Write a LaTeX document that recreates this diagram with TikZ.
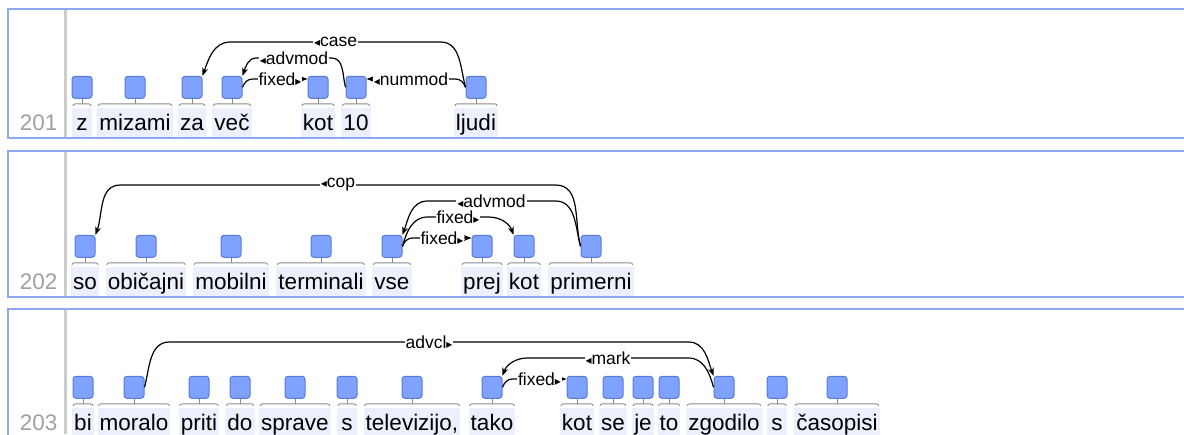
\documentclass[tikz,border=0pt]{standalone}
\usepackage{fontspec}
\setmainfont{Liberation Sans}
\newfontfamily\markfont{DejaVu Sans}
\usepackage{xcolor}
\usepackage{tikz}
\usetikzlibrary{arrows.meta, positioning, calc}

\definecolor{spanfill}{HTML}{7FA2FF}
\definecolor{spanline}{HTML}{5A7AD8}
\definecolor{rowframe}{HTML}{8DA8F2}
\definecolor{wordbg}{HTML}{EBF0FC}
\definecolor{rownum}{HTML}{A0A0A0}
\definecolor{sepgray}{HTML}{CCCCCC}
\definecolor{brkgray}{HTML}{8A8A8A}

% direction marks in arc labels
\newcommand{\lmk}{{\markfont\fontsize{12}{12}\selectfont ◂}}
\newcommand{\rmk}{{\markfont\fontsize{12}{12}\selectfont ▸}}

% one token: word, span box above it, brace between
\newcommand{\tok}[4]{%
	\node[word] (#1) at (#2,#3) {#4};
	\node[spanbox, above=9pt of #1] (#1-t) {};
	\draw[brk] ($(#1.north west)+(1,-2)$) to[out=90,in=180] ($(#1.north west)+(4,-4)$) -- ($(#1.north east)+(-4,-4)$) to[out=0,in=90] ($(#1.north east)+(-1,-2)$);
	\draw[brk] (#1-t.south) -- ($(#1.north)+(0,-4)$);
}

\begin{document}
\begin{tikzpicture}[
		x=1pt, y=-1pt,
		font=\fontsize{22.5}{26}\selectfont,
		word/.style={anchor=base, fill=wordbg, inner xsep=2pt, inner ysep=0pt, text height=22pt, text depth=7pt, minimum width=20pt},
		spanbox/.style={draw=spanline, fill=spanfill, rounded corners=3pt, minimum width=20pt, minimum height=22pt, inner sep=0pt, line width=1pt},
		brk/.style={draw=brkgray, line width=0.9pt},
		arc/.style={-{Stealth[length=8pt,width=6pt]}, line width=1.2pt},
		lab/.style={fill=white, inner xsep=1pt, inner ysep=0.5pt, font=\fontsize{17.5}{18}\selectfont},
		frame/.style={draw=rowframe, line width=2pt},
		sep/.style={draw=sepgray, line width=3pt},
		rownum/.style={anchor=base east, text=rownum}
		]
		
		\useasboundingbox (0,0) rectangle (1184,434);
		\clip (0,0) rectangle (1184,434);
		
		% Row frames
		\draw[frame] (8,9) rectangle (1200,138);
		\draw[frame] (8,151) rectangle (1200,297);
		\draw[frame] (8,309) rectangle (1200,470);
		\draw[sep] (65,10) -- (65,137);
		\draw[sep] (65,152) -- (65,296);
		\draw[sep] (65,310) -- (65,434);
		
		% Row numbers
		\node[rownum] (n201) at (61,130) {201};
		\node[rownum] (n202) at (61,289) {202};
		\node[rownum] (n203) at (61,430) {203};
		
		% Arc levels
		\coordinate (L1a) at (0,42);
		\coordinate (L1b) at (0,58);
		\coordinate (L1c) at (0,79);
		\coordinate (L2a) at (0,185);
		\coordinate (L2b) at (0,201);
		\coordinate (L2c) at (0,217);
		\coordinate (L2d) at (0,238);
		\coordinate (L3a) at (0,342);
		\coordinate (L3b) at (0,358);
		\coordinate (L3c) at (0,379);
		
		% Sentence 201
		\tok{z}{82}{130}{z}
		\tok{mizami}{135}{130}{mizami}
		\tok{za}{192}{130}{za}
		\tok{vec}{232}{130}{več}
		\tok{kot1}{318}{130}{kot}
		\tok{ten}{356}{130}{10}
		\tok{ljudi}{476}{130}{ljudi}
		
		% Sentence 202
		\tok{so}{85}{289}{so}
		\tok{obicajni}{146}{289}{običajni}
		\tok{mobilni}{231}{289}{mobilni}
		\tok{terminali}{321}{289}{terminali}
		\tok{vse}{392}{289}{vse}
		\tok{prej}{482}{289}{prej}
		\tok{kot2}{524}{289}{kot}
		\tok{primerni}{591}{289}{primerni}
		
		% Sentence 203
		\tok{bi}{83}{430}{bi}
		\tok{moralo}{134}{430}{moralo}
		\tok{priti}{199}{430}{priti}
		\tok{do}{240}{430}{do}
		\tok{sprave}{295}{430}{sprave}
		\tok{s1}{347}{430}{s}
		\tok{televizijo}{412}{430}{televizijo,}
		\tok{tako}{492}{430}{tako}
		\tok{kot3}{577}{430}{kot}
		\tok{se}{613}{430}{se}
		\tok{je}{643}{430}{je}
		\tok{toW}{669}{430}{to}
		\tok{zgodilo}{724}{430}{zgodilo}
		\tok{s2}{777}{430}{s}
		\tok{casopisi}{837}{430}{časopisi}
		
		% Arcs 201
		\draw[arc] (ljudi-t.west) to[out=105,in=0] ($(ljudi-t.west |- L1a)+(-25,0)$) -- node[lab]{\lmk case} ($(za-t.north east |- L1a)+(28,0)$) to[out=180,in=70] (za-t.north east);
		\draw[arc] (ten-t.west) to[out=105,in=0] ($(ten-t.west |- L1b)+(-14,0)$) -- node[lab]{\lmk advmod} ($(vec-t.north east |- L1b)+(14,0)$) to[out=180,in=70] (vec-t.north east);
		\draw[arc] (vec-t.east) to[out=70,in=180] ($(vec-t.east |- L1c)+(10,0)$) -- node[lab]{fixed\rmk} (kot1-t.west |- L1c);
		\draw[arc] (ljudi-t.west) to[out=110,in=0] ($(ljudi-t.west |- L1c)+(-10,0)$) -- node[lab]{\lmk nummod} (ten-t.east |- L1c);
		
		% Arcs 202
		\draw[arc] (primerni-t.west) to[out=105,in=0] ($(primerni-t.west |- L2a)+(-25,0)$) -- node[lab]{\lmk cop} ($(so-t.north east |- L2a)+(25,0)$) to[out=180,in=70] (so-t.north east);
		\draw[arc] (primerni-t.west) to[out=105,in=0] ($(primerni-t.west |- L2b)+(-25,0)$) -- node[lab]{\lmk advmod} ($(vse-t.north east |- L2b)+(25,0)$) to[out=180,in=70] (vse-t.north east);
		\draw[arc] (vse-t.east) to[out=75,in=180] ($(vse-t.east |- L2c)+(25,0)$) -- node[lab]{fixed\rmk} ($(kot2-t.north west |- L2c)+(-25,0)$) to[out=0,in=110] (kot2-t.north west);
		\draw[arc] (vse-t.east) to[out=70,in=180] ($(vse-t.east |- L2d)+(10,0)$) -- node[lab]{fixed\rmk} (prej-t.west |- L2d);
		
		% Arcs 203
		\draw[arc] (moralo-t.east) to[out=75,in=180] ($(moralo-t.east |- L3a)+(25,0)$) -- node[lab]{advcl\rmk} ($(zgodilo-t.north west |- L3a)+(-25,0)$) to[out=0,in=110] (zgodilo-t.north west);
		\draw[arc] (zgodilo-t.west) to[out=105,in=0] ($(zgodilo-t.west |- L3b)+(-25,0)$) -- node[lab]{\lmk mark} ($(tako-t.north east |- L3b)+(25,0)$) to[out=180,in=70] (tako-t.north east);
		\draw[arc] (tako-t.east) to[out=70,in=180] ($(tako-t.east |- L3c)+(10,0)$) -- node[lab]{fixed\rmk} (kot3-t.west |- L3c);
		
	\end{tikzpicture}
\end{document}
